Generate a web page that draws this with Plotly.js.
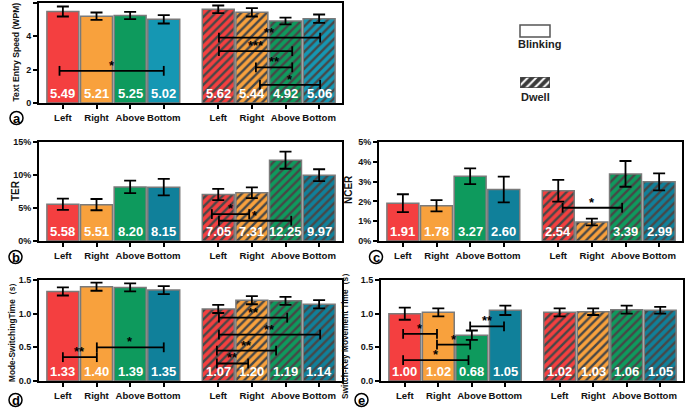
<!DOCTYPE html>
<html><head><meta charset="utf-8">
<script src="https://cdn.plot.ly/plotly-3.0.1.min.js"></script>
<style>html,body{margin:0;padding:0;background:#fff}#chart{width:685px;height:410px}</style>
</head><body><div id="chart"></div>
<script>
// ---------- data ----------
const categories = ['Left', 'Right', 'Above', 'Bottom'];
const colors = ['#f43f40', '#f8a13d', '#0e9a5d', '#1597b3'];
const colorsDark = ['#f43f40', '#f8a13d', '#0e9a5d', '#10809a'];

const speedBlink = [5.49, 5.21, 5.25, 5.02];
const speedBlinkErr = [0.30, 0.22, 0.22, 0.25];
const speedDwell = [5.62, 5.44, 4.92, 5.06];
const speedDwellErr = [0.23, 0.25, 0.20, 0.25];

const terBlink = [5.58, 5.51, 8.20, 8.15];
const terBlinkErr = [0.85, 0.85, 0.95, 1.25];
const terDwell = [7.05, 7.31, 12.25, 9.97];
const terDwellErr = [0.85, 0.80, 1.30, 0.90];

const ncerBlink = [1.91, 1.78, 3.27, 2.60];
const ncerBlinkErr = [0.45, 0.28, 0.40, 0.65];
const ncerDwell = [2.54, 0.96, 3.39, 2.99];
const ncerDwellErr = [0.55, 0.17, 0.65, 0.43];

const mstBlink = [1.33, 1.40, 1.39, 1.35];
const mstBlinkErr = [0.06, 0.06, 0.06, 0.06];
const mstDwell = [1.07, 1.20, 1.19, 1.14];
const mstDwellErr = [0.06, 0.06, 0.06, 0.06];

const skmBlink = [1.00, 1.02, 0.68, 1.05];
const skmBlinkErr = [0.09, 0.06, 0.07, 0.07];
const skmDwell = [1.02, 1.03, 1.06, 1.05];
const skmDwellErr = [0.06, 0.05, 0.06, 0.05];

// significance brackets: [from position, to position, level, stars]
const speedBrackets = [[-0.1, 3.0, 1.93, '*'], [4.64, 7.65, 3.92, '**'], [4.64, 6.82, 3.11, '***'], [5.74, 6.82, 2.14, '**'], [5.86, 7.65, 1.09, '*']];
const terBrackets = [[4.43, 5.54, 4.08, '*'], [4.64, 6.79, 3.07, '*']];
const ncerBrackets = [[4.75, 6.52, 1.68, '*']];
const mstBrackets = [[0.0, 1.01, 0.354, '**'], [1.01, 3.0, 0.50, '*'], [4.64, 6.67, 0.94, '**'], [4.64, 7.65, 0.69, '**'], [4.58, 6.34, 0.45, '**'], [4.58, 5.51, 0.26, '**']];
const skmBrackets = [[-0.05, 0.96, 0.70, '*'], [0.96, 1.95, 0.54, '*'], [1.95, 2.96, 0.81, '**'], [-0.05, 1.9, 0.31, '*']];

const yTitles = ['Text Entry Speed (WPM)', 'TER', 'NCER', 'Mode-SwitchingTime（s）', 'Switch-Key Movement Time（s）'];
const panelLetters = ['a', 'b', 'c', 'd', 'e'];
const legendNames = ['Blinking', 'Dwell'];

// ---------- layout helpers ----------
const W = 685, H = 410;
const px = v => v / W;
const py = v => 1 - v / H;
const GAP = 0.62;
const blinkPos = categories.map((c, i) => i);
const dwellPos = categories.map((c, i) => i + categories.length + GAP);
const FONT = 'Liberation Sans, Arial, sans-serif';
const NARROW = 'Liberation Sans Narrow, Arial Narrow, Liberation Sans, Arial, sans-serif';

const panels = [
  {blink: speedBlink, be: speedBlinkErr, dwell: speedDwell, de: speedDwellErr, br: speedBrackets, col: colors,
   xd: [39, 342], yd: [3, 103], yr: [0, 6], tickvals: [0, 2, 4, 6], ticktext: null, hide: [],
   title: {x: 15.5, y: 52, size: 8.6}, letter: {x: 16.5, y: 118}},
  {blink: terBlink, be: terBlinkErr, dwell: terDwell, de: terDwellErr, br: terBrackets, col: colorsDark,
   xd: [39, 342], yd: [142, 241], yr: [0, 15], tickvals: [0, 5, 10, 15], ticktext: ['0%', '5%', '10%', '15%'], hide: [],
   title: {x: 15, y: 191, size: 10}, letter: {x: 15.5, y: 257}},
  {blink: ncerBlink, be: ncerBlinkErr, dwell: ncerDwell, de: ncerDwellErr, br: ncerBrackets, col: colorsDark,
   xd: [379, 682], yd: [142, 241], yr: [0, 5], tickvals: [0, 1, 2, 3, 4, 5], ticktext: ['0%', '1%', '2%', '3%', '4%', '5%'], hide: [5],
   title: {x: 348, y: 189, size: 10}, letter: {x: 376, y: 257}},
  {blink: mstBlink, be: mstBlinkErr, dwell: mstDwell, de: mstDwellErr, br: mstBrackets, col: colorsDark,
   xd: [39, 342], yd: [280, 381], yr: [0, 1.5], tickvals: [0, 0.5, 1, 1.5], ticktext: ['0.0', '0.5', '1.0', '1.5'], hide: [],
   title: {x: 12, y: 331, size: 8.3}, letter: {x: 15.5, y: 400}},
  {blink: skmBlink, be: skmBlinkErr, dwell: skmDwell, de: skmDwellErr, br: skmBrackets, col: colorsDark,
   xd: [381, 683], yd: [280, 381], yr: [0, 1.5], tickvals: [0, 0.5, 1, 1.5], ticktext: ['0.0', '0.5', '1.0', '1.5'], hide: [],
   title: {x: 345, y: 334, size: 8.3}, letter: {x: 361.5, y: 400}}
];

const traces = [];
const annotations = [];
const shapes = [];
const layout = {
  width: W, height: H, autosize: false,
  margin: {l: 0, r: 0, t: 0, b: 0},
  paper_bgcolor: '#fff', plot_bgcolor: '#fff',
  showlegend: false, barmode: 'overlay',
  font: {family: FONT, color: '#111'}
};

panels.forEach((p, k) => {
  const n = k === 0 ? '' : String(k + 1);
  const xa = 'x' + n, ya = 'y' + n;
  layout['xaxis' + n] = {
    domain: [px(p.xd[0]), px(p.xd[1])], anchor: ya, range: [-0.71, 8.3],
    tickvals: blinkPos.concat(dwellPos), ticktext: categories.concat(categories), tickangle: 0,
    ticks: 'outside', ticklen: 4, tickwidth: 2, tickcolor: '#000',
    showline: true, linewidth: 2, linecolor: '#000', mirror: true,
    showgrid: false, zeroline: false, fixedrange: true,
    tickfont: {family: FONT, size: 9.6, weight: 'bold', color: '#111'}
  };
  layout['yaxis' + n] = {
    domain: [py(p.yd[1]), py(p.yd[0])], anchor: xa, range: p.yr,
    tickvals: p.tickvals, ticktext: p.ticktext || p.tickvals.map(String),
    ticks: 'outside', ticklen: 4, tickwidth: 2, tickcolor: '#000',
    showline: true, linewidth: 2, linecolor: '#000', mirror: true,
    showgrid: false, zeroline: false, fixedrange: true,
    tickfont: {family: FONT, size: 9, weight: 'bold', color: '#111'}
  };
  // blinking bars
  traces.push({
    type: 'bar', x: blinkPos, y: p.blink, width: 0.95, xaxis: xa, yaxis: ya,
    marker: {color: p.col, line: {color: '#7a7a7a', width: 1.5}},
    error_y: {type: 'data', array: p.be, visible: true, color: '#000', thickness: 1.8, width: 6},
    hoverinfo: 'skip'
  });
  // dwell bars (hatched), one trace per bar so the stripe colour stays dark grey
  p.dwell.forEach((v, i) => {
    traces.push({
      type: 'bar', x: [dwellPos[i]], y: [v], width: 0.95, xaxis: xa, yaxis: ya,
      marker: {color: p.col[i], line: {color: '#7a7a7a', width: 1.5},
        pattern: {shape: '/', fillmode: 'overlay', bgcolor: p.col[i], fgcolor: '#474747', fgopacity: 1, size: 6, solidity: 0.4}},
      error_y: {type: 'data', array: [p.de[i]], visible: true, color: '#000', thickness: 1.8, width: 6},
      hoverinfo: 'skip'
    });
  });
  // value labels
  const allPos = blinkPos.concat(dwellPos);
  const allVals = p.blink.concat(p.dwell);
  allVals.forEach((v, i) => {
    if (p.hide.indexOf(i) >= 0) return;
    annotations.push({
      xref: xa, yref: ya, x: allPos[i], y: 0, yanchor: 'bottom', yshift: 0,
      text: v.toFixed(2), showarrow: false,
      font: {family: NARROW, size: 13, weight: 'bold', color: '#fff'}
    });
  });
  // significance brackets
  p.br.forEach(b => {
    traces.push({
      type: 'scatter', mode: 'lines+markers', x: [b[0], b[1]], y: [b[2], b[2]], xaxis: xa, yaxis: ya,
      line: {color: '#000', width: 1.8},
      marker: {symbol: 'line-ns', size: 7, line: {color: '#000', width: 1.8}},
      hoverinfo: 'skip'
    });
    annotations.push({
      xref: xa, yref: ya, x: (b[0] + b[1]) / 2, y: b[2], yanchor: 'bottom', yshift: -4,
      text: b[3], showarrow: false,
      font: {family: FONT, size: 13, weight: 'bold', color: '#000'}
    });
  });
  // y title
  annotations.push({
    xref: 'paper', yref: 'paper', x: px(p.title.x), y: py(p.title.y), xanchor: 'center', yanchor: 'middle',
    text: yTitles[k], textangle: -90, showarrow: false,
    font: {family: FONT, size: p.title.size, weight: 'bold', color: '#111'}
  });
  // circled panel letter
  shapes.push({type: 'circle', xref: 'paper', yref: 'paper',
    x0: px(p.letter.x - 6.5), x1: px(p.letter.x + 6.5), y0: py(p.letter.y + 6.5), y1: py(p.letter.y - 6.5),
    line: {color: '#000', width: 1.5}});
  annotations.push({
    xref: 'paper', yref: 'paper', x: px(p.letter.x), y: py(p.letter.y + 0.5), xanchor: 'center', yanchor: 'middle',
    text: panelLetters[k], showarrow: false,
    font: {family: FONT, size: 13, weight: 'bold', color: '#000'}
  });
});

// legend: Blinking swatch (plain) and Dwell swatch (hatched) on a small helper axis
shapes.push({type: 'rect', xref: 'paper', yref: 'paper', x0: px(520), x1: px(550), y0: py(37), y1: py(25),
  line: {color: '#555', width: 1.5}, fillcolor: '#fff'});
annotations.push({xref: 'paper', yref: 'paper', x: px(539), y: py(44), xanchor: 'center', yanchor: 'middle',
  text: legendNames[0], showarrow: false, font: {family: FONT, size: 11, weight: 'bold', color: '#222'}});
layout.xaxis6 = {domain: [px(520), px(550)], anchor: 'y6', range: [-0.5, 0.5], visible: false, fixedrange: true};
layout.yaxis6 = {domain: [py(88), py(77)], anchor: 'x6', range: [0, 1], visible: false, fixedrange: true};
traces.push({type: 'bar', x: [0], y: [1], width: 1, xaxis: 'x6', yaxis: 'y6',
  marker: {color: '#3a3a3a', line: {color: '#444', width: 1.5},
    pattern: {shape: '/', fillmode: 'overlay', bgcolor: '#3a3a3a', fgcolor: '#ffffff', fgopacity: 1, size: 6, solidity: 0.35}},
  hoverinfo: 'skip'});
annotations.push({xref: 'paper', yref: 'paper', x: px(535), y: py(97), xanchor: 'center', yanchor: 'middle',
  text: legendNames[1], showarrow: false, font: {family: FONT, size: 11, weight: 'bold', color: '#222'}});

layout.annotations = annotations;
layout.shapes = shapes;
Plotly.newPlot('chart', traces, layout, {displayModeBar: false, staticPlot: true});
</script></body></html>
